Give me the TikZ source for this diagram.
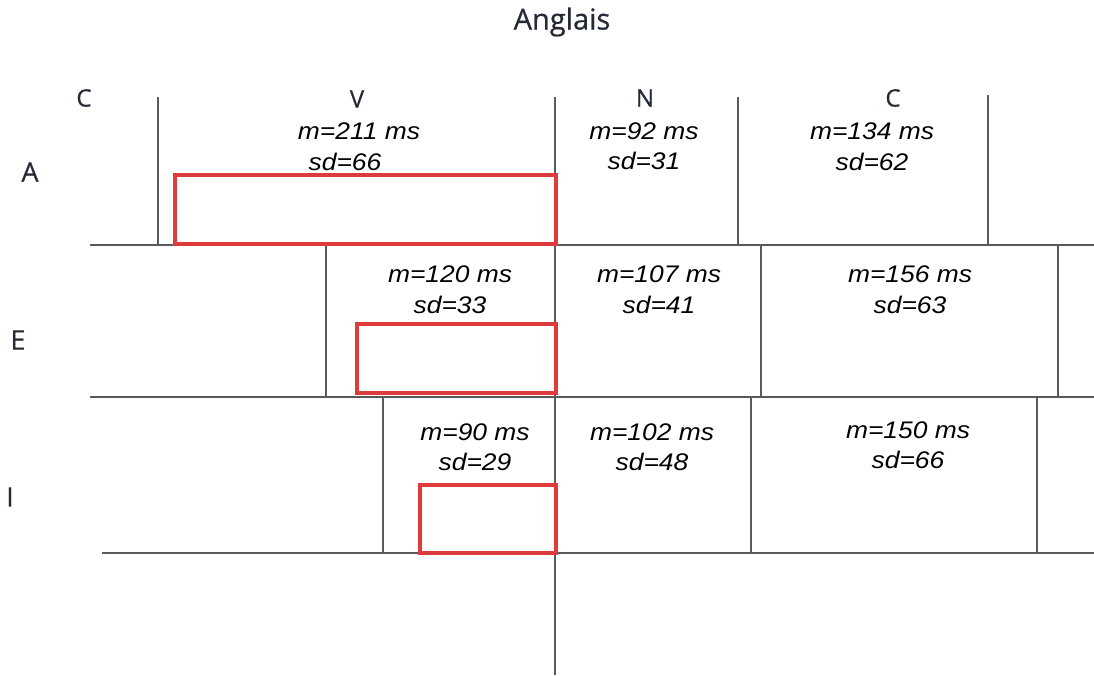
\documentclass[tikz,border=0pt]{standalone}
\usepackage{fontspec}
\setmainfont{Liberation Sans}[FakeStretch=1.1]
\newfontfamily\labfont{Open Sans}[FakeBold=0.6]
\definecolor{gridc}{HTML}{5A5A5A}
\definecolor{boxred}{HTML}{E03B3B}
\definecolor{labc}{HTML}{262936}
\begin{document}
\begin{tikzpicture}[x=1pt,y=-1pt,
  gridline/.style={draw=gridc,line width=1.3pt},
  redbox/.style={draw=boxred,line width=4.2pt},
  stat/.style={anchor=base,inner sep=0pt,font=\fontsize{24}{30}\selectfont\itshape,text=black},
  seg/.style={inner sep=0pt,font=\labfont\fontsize{24}{28}\selectfont,text=labc},
  rowlab/.style={inner sep=0pt,font=\labfont\fontsize{27}{32}\selectfont,text=labc},
  ttl/.style={inner sep=0pt,font=\labfont\fontsize{29}{34}\selectfont,text=labc}]
\useasboundingbox (0,0) rectangle (1094,675);
% title
\node[ttl] (title) at (562,22) {Anglais};
% segment labels
\node[seg] (c1) at (84,98) {C};
\node[seg] (v) at (357,99) {V};
\node[seg] (n) at (645,98) {N};
\node[seg] (c2) at (893,98) {C};
% row labels
\node[rowlab] (ra) at (30,172) {A};
\node[rowlab] (re) at (18,340) {E};
\node[rowlab] (ri) at (10,497) {I};
% grid lines
\draw[gridline] (90,245) -- (1094,245);
\draw[gridline] (90,397) -- (1094,397);
\draw[gridline] (102,553) -- (1094,553);
\draw[gridline] (555,97) -- (555,675);
\draw[gridline] (158,97) -- (158,245);
\draw[gridline] (738,97) -- (738,245);
\draw[gridline] (988,95) -- (988,245);
\draw[gridline] (326,245) -- (326,397);
\draw[gridline] (761,245) -- (761,397);
\draw[gridline] (1058,245) -- (1058,397);
\draw[gridline] (383,397) -- (383,553);
\draw[gridline] (751,397) -- (751,553);
\draw[gridline] (1037,397) -- (1037,553);
% red boxes
\draw[redbox] (175,175) rectangle (556,244);
\draw[redbox] (357,324) rectangle (556,393);
\draw[redbox] (420,485) rectangle (556,553);
% row A stats
\node[stat] (am1) at (359,139) {m=211 ms};
\node[stat] (as1) at (345,170) {sd=66};
\node[stat] (am2) at (644,139) {m=92 ms};
\node[stat] (as2) at (644,169) {sd=31};
\node[stat] (am3) at (872,139) {m=134 ms};
\node[stat] (as3) at (872,170) {sd=62};
% row E stats
\node[stat] (em1) at (450,282) {m=120 ms};
\node[stat] (es1) at (450,313) {sd=33};
\node[stat] (em2) at (659,282) {m=107 ms};
\node[stat] (es2) at (659,313) {sd=41};
\node[stat] (em3) at (910,282) {m=156 ms};
\node[stat] (es3) at (910,313) {sd=63};
% row I stats
\node[stat] (im1) at (475,440) {m=90 ms};
\node[stat] (is1) at (475,470) {sd=29};
\node[stat] (im2) at (652,440) {m=102 ms};
\node[stat] (is2) at (652,470) {sd=48};
\node[stat] (im3) at (908,438) {m=150 ms};
\node[stat] (is3) at (908,468) {sd=66};
\end{tikzpicture}
\end{document}
